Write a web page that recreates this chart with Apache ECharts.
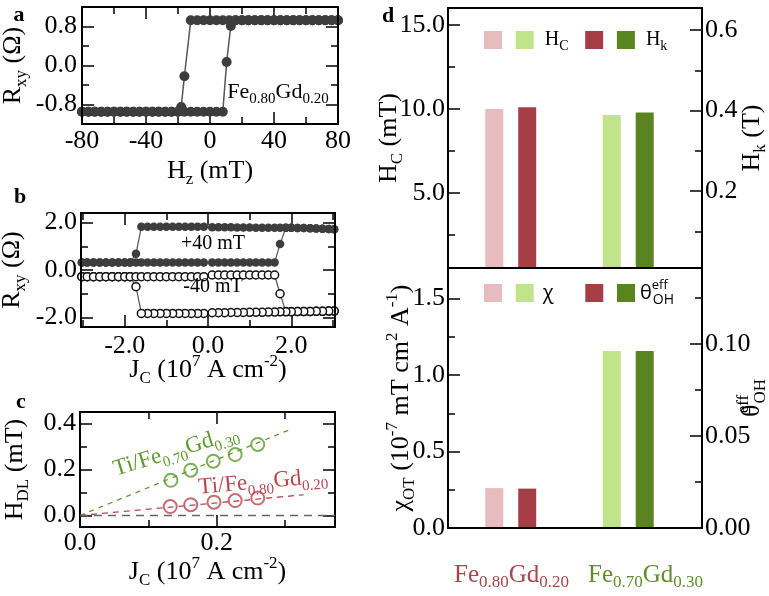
<!DOCTYPE html>
<html>
<head>
<meta charset="utf-8">
<script src="https://cdn.jsdelivr.net/npm/echarts@6/dist/echarts.min.js"></script>
<style>
html,body{margin:0;padding:0;background:#fff;}
#chart{width:769px;height:596px;}
</style>
</head>
<body>
<div id="chart"></div>
<script>
// ================= DATA =================
// (a) R_xy vs H_z loop, Fe0.80Gd0.20
const hzDown = [80,76,72,68,64,60,56,52,48,44,40,36,32,28,24,20,16,12,8,4,0,-4,-8,-12,-16,-18,-20,-24,-28,-32,-36,-40,-44,-48,-52,-56,-60,-64,-68,-72,-76,-80];
const rxyDown = [0.93,0.93,0.93,0.93,0.93,0.93,0.93,0.93,0.93,0.93,0.93,0.93,0.93,0.93,0.93,0.93,0.93,0.93,0.93,0.93,0.93,0.93,0.93,0.93,-0.22,-0.85,-0.95,-0.95,-0.95,-0.95,-0.95,-0.95,-0.95,-0.95,-0.95,-0.95,-0.95,-0.95,-0.95,-0.95,-0.95,-0.95];
const hzUp = [-80,-76,-72,-68,-64,-60,-56,-52,-48,-44,-40,-36,-32,-28,-24,-20,-16,-12,-8,-4,0,4,8,10.4,13,16,20,24,28,32,36,40,44,48,52,56,60,64,68,72,76,80];
const rxyUp = [-0.95,-0.95,-0.95,-0.95,-0.95,-0.95,-0.95,-0.95,-0.95,-0.95,-0.95,-0.95,-0.95,-0.95,-0.95,-0.95,-0.95,-0.95,-0.95,-0.95,-0.95,-0.95,-0.95,0.07,0.81,0.93,0.93,0.93,0.93,0.93,0.93,0.93,0.93,0.93,0.93,0.93,0.93,0.93,0.93,0.93,0.93,0.93];
const aXMajor = [-80,-40,0,40,80], aXMinor = [-60,-20,20,60];
const aYMajor = [-0.8,0,0.8], aYMinor = [-0.4,0.4];

// (b) current-induced switching, +40 mT (filled) and -40 mT (open)
const jSweep = [0.10,0.25,0.40,0.55,0.70,0.85,1.00,1.15,1.30,1.45,1.60,1.73,1.87,2.00,2.15,2.30,2.45,2.60,2.75,2.90,3.03];
const pPosFwd = [0.32,0.32,0.32,0.32,0.32,0.32,0.32,0.32,0.32,0.32,0.32,1.09,1.78,1.78,1.77,1.77,1.76,1.75,1.74,1.73,1.72];
const pPosRet = [1.80,1.80,1.80,1.80,1.79,1.79,1.79,1.78,1.78,1.78,1.78,1.78,1.78,1.78,1.77,1.77,1.76,1.75,1.74,1.73,1.72];
const pNegFwd = [1.82,1.82,1.82,1.82,1.82,1.82,1.82,1.82,1.82,1.82,1.82,0.68,0.32,0.32,0.32,0.32,0.32,0.32,0.32,0.32,0.32];
const pNegRet = [0.32,0.32,0.32,0.32,0.32,0.32,0.32,0.32,0.32,0.32,0.32,0.32,0.32,0.32,0.32,0.32,0.32,0.32,0.32,0.32,0.32];
const nPosFwd = [-0.21,-0.21,-0.21,-0.21,-0.21,-0.21,-0.21,-0.21,-0.21,-0.21,-0.21,-1.00,-1.75,-1.75,-1.75,-1.75,-1.75,-1.74,-1.74,-1.73,-1.73];
const nPosRet = [-1.80,-1.80,-1.80,-1.79,-1.79,-1.79,-1.78,-1.78,-1.78,-1.77,-1.77,-1.76,-1.76,-1.76,-1.75,-1.75,-1.75,-1.74,-1.74,-1.73,-1.73];
const nNegFwd = [-1.83,-1.83,-1.83,-1.83,-1.83,-1.83,-1.83,-1.83,-1.83,-1.83,-1.83,-0.70,-0.28,-0.28,-0.28,-0.28,-0.28,-0.28,-0.28,-0.28,-0.28];
const nNegRet = [-0.28,-0.28,-0.28,-0.28,-0.28,-0.28,-0.28,-0.28,-0.28,-0.28,-0.28,-0.28,-0.28,-0.28,-0.28,-0.28,-0.28,-0.28,-0.28,-0.28,-0.28];
const bXMajor = [-2,0,2], bXMinor = [-3,-1,1,3];
const bYMajor = [-2,0,2], bYMinor = [-1,1];

// (c) H_DL vs J_C
const jcG = [0.133,0.162,0.195,0.227,0.260], hdlG = [0.153,0.197,0.236,0.265,0.309];
const jcR = [0.132,0.162,0.196,0.227,0.260], hdlR = [0.039,0.047,0.058,0.065,0.076];
const fitGx = [0,0.305], fitGy = [0,0.371];
const fitRx = [0,0.327], fitRy = [0,0.090];
const cXMajor = [0,0.2], cXMinor = [0.1,0.3];
const cYMajor = [0,0.2,0.4], cYMinor = [0.1,0.3];

// (d) bars
const materials = ['Fe0.80Gd0.20','Fe0.70Gd0.30'];
const matParts = [['Fe','0.80','Gd','0.20'],['Fe','0.70','Gd','0.30']];
const hc = [10.0, 9.64];      // mT (left)
const hk = [0.408, 0.395];    // T (right)
const chi = [0.261, 1.157];   // 1e-7 mT cm2/A (left)
const theta = [0.0214, 0.0962]; // (right)
const dTLMajor = [5,10,15], dTLMinor = [2.5,7.5,12.5];
const dTRMajor = [0.2,0.4,0.6], dTRMinor = [0.1,0.3,0.5];
const dBLMajor = [0,0.5,1.0,1.5], dBLMinor = [0.25,0.75,1.25];
const dBRMajor = [0,0.05,0.10], dBRMinor = [0.025,0.075,0.125];

// ================= STYLE =================
const FONT = 'Liberation Serif';
const SANS = 'Open Sans';
const C_PINK = '#e8bcbe', C_LGREEN = '#c1e38b', C_DRED = '#a63f45', C_DGREEN = '#5a8420';
const C_TRED = '#a6474b', C_TGREEN = '#5f8e2a';
const C_CGREEN = '#5e9a2c', C_CRED = '#b8484d';
const MAJ = 12, MIN = 7;

function rich(size, color, subSize) {
  color = color || '#000';
  const sub = subSize || Math.round(size * 0.66);
  return {
    m: {fontFamily: FONT, fontSize: size, color: color, fill: color, lineHeight: size + 8},
    s: {fontFamily: FONT, fontSize: sub, color: color, fill: color, lineHeight: sub, verticalAlign: 'bottom'},
    p: {fontFamily: FONT, fontSize: sub, color: color, fill: color, lineHeight: sub, verticalAlign: 'top'},
    e: {fontFamily: FONT, fontSize: sub, color: color, fill: color, lineHeight: sub, verticalAlign: 'top', width: 1},
    o: {fontFamily: FONT, fontSize: sub, color: color, fill: color, lineHeight: sub, verticalAlign: 'bottom'}
  };
}
const numRich = {n: {fontFamily: FONT, fontSize: 26, color: '#000', lineHeight: 30}};

const grids = [], xAxes = [], yAxes = [];
function addGrid(box, show) {
  grids.push({left: box[0], top: box[1], width: box[2] - box[0], height: box[3] - box[1],
    show: !!show, borderColor: '#000', borderWidth: 2, backgroundColor: 'rgba(0,0,0,0)', z: 5,
    containLabel: false, outerBoundsMode: 'none'});
  return grids.length - 1;
}
function addAxis(dim, gi, pos, range, vals, len, lab, extra) {
  const a = Object.assign({
    type: 'value', gridIndex: gi, position: pos, min: range[0], max: range[1],
    axisLine: {show: false, onZero: false},
    splitLine: {show: false},
    axisTick: {show: true, inside: true, length: len, customValues: vals, lineStyle: {color: '#000', width: 1.5}},
    axisLabel: lab ? Object.assign({show: true, customValues: vals, fontFamily: FONT, fontSize: 26, color: '#000', rich: numRich}, lab) : {show: false},
    nameMoveOverlap: false
  }, extra || {});
  const arr = dim === 'x' ? xAxes : yAxes;
  arr.push(a);
  return arr.length - 1;
}
function nameOpt(name, gap, rot) {
  const o = {name: name, nameLocation: 'middle', nameGap: gap, nameTextStyle: {rich: rich(26)}};
  if (rot != null) o.nameRotate = rot;
  return o;
}
const fx = d => v => '{n|' + v.toFixed(d) + '}';

function panel(box, xr, yr, xMaj, xMin, yMaj, yMin, xd, yd, xName, xGap, yName, yGap, xMargin, yMargin) {
  const gi = addGrid(box, true);
  const xi = addAxis('x', gi, 'bottom', xr, xMaj, MAJ, {formatter: fx(xd), margin: xMargin}, nameOpt(xName, xGap));
  addAxis('x', gi, 'bottom', xr, xMin, MIN);
  addAxis('x', gi, 'top', xr, xMaj, MAJ);
  addAxis('x', gi, 'top', xr, xMin, MIN);
  const yi = addAxis('y', gi, 'left', yr, yMaj, MAJ, {formatter: fx(yd), margin: yMargin}, nameOpt(yName, yGap, 90));
  addAxis('y', gi, 'left', yr, yMin, MIN);
  addAxis('y', gi, 'right', yr, yMaj, MAJ);
  addAxis('y', gi, 'right', yr, yMin, MIN);
  return [xi, yi];
}

const series = [];

// ---- panel a ----
const [axA, ayA] = panel([82, 7, 338, 124], [-80, 80], [-1.2, 1.2], aXMajor, aXMinor, aYMajor, aYMinor, 0, 1,
  '{m|H}{s|z}{m| (mT)}', 30, '{m|R}{s|xy}{m| (Ω)}', 52, 2, 5);
const aStyle = (name, xs, ys) => ({
  type: 'line', name: name, xAxisIndex: axA, yAxisIndex: ayA, data: xs.map((x, i) => [x, ys[i]]),
  symbol: 'circle', symbolSize: 10, itemStyle: {color: '#3d3d3d'}, lineStyle: {color: '#555', width: 1.5}, z: 3
});
series.push(aStyle('down', hzDown, rxyDown), aStyle('up', hzUp, rxyUp));

// ---- panel b ----
const [axB, ayB] = panel([81, 213, 335, 327], [-3.05, 3.05], [-2.4, 2.4], bXMajor, bXMinor, bYMajor, bYMinor, 1, 1,
  '{m|J}{s|C}{m| (10}{p|7}{m| A cm}{p|-2}{m|)}', 26, '{m|R}{s|xy}{m| (Ω)}', 52, 4, 4);
function loop(pf, pr, nf, nr) {
  return [].concat(
    jSweep.map((j, i) => [j, pf[i]]),
    jSweep.map((j, i) => [j, pr[i]]).reverse(),
    jSweep.map((j, i) => [-j, nf[i]]),
    jSweep.map((j, i) => [-j, nr[i]]).reverse());
}
series.push({type: 'line', name: 'p40', xAxisIndex: axB, yAxisIndex: ayB, data: loop(pPosFwd, pPosRet, pNegFwd, pNegRet),
  symbol: 'circle', symbolSize: 8.5, itemStyle: {color: '#3d3d3d'}, lineStyle: {color: '#555', width: 1.2}, z: 3});
series.push({type: 'line', name: 'n40', xAxisIndex: axB, yAxisIndex: ayB, data: loop(nPosFwd, nPosRet, nNegFwd, nNegRet),
  symbol: 'circle', symbolSize: 8, itemStyle: {color: '#fff', borderColor: '#111', borderWidth: 1.5}, lineStyle: {color: '#555', width: 1.2}, z: 3});

// ---- panel c ----
const [axC, ayC] = panel([80, 412, 335, 527], [0, 0.373], [-0.05, 0.45], cXMajor, cXMinor, cYMajor, cYMinor, 1, 1,
  '{m|J}{s|C}{m| (10}{p|7}{m| A cm}{p|-2}{m|)}', 28, '{m|H}{s|DL}{m| (mT)}', 48, 1, 4);
series.push({type: 'line', name: 'fitG', xAxisIndex: axC, yAxisIndex: ayC, data: fitGx.map((x, i) => [x, fitGy[i]]),
  symbol: 'none', lineStyle: {color: C_CGREEN, width: 1.3, type: [5, 5]}, z: 2,
  markLine: {silent: true, symbol: 'none', label: {show: false}, data: [{yAxis: 0}], lineStyle: {color: '#666', width: 1.3, type: [8, 6]}}});
series.push({type: 'line', name: 'fitR', xAxisIndex: axC, yAxisIndex: ayC, data: fitRx.map((x, i) => [x, fitRy[i]]),
  symbol: 'none', lineStyle: {color: C_CRED, width: 1.3, type: [6, 5]}, z: 2});
series.push({type: 'scatter', name: 'ptsG', xAxisIndex: axC, yAxisIndex: ayC, data: jcG.map((x, i) => [x, hdlG[i]]),
  symbol: 'circle', symbolSize: 13, itemStyle: {color: 'rgba(0,0,0,0)', borderColor: C_CGREEN, borderWidth: 2}, z: 3});
series.push({type: 'scatter', name: 'ptsR', xAxisIndex: axC, yAxisIndex: ayC, data: jcR.map((x, i) => [x, hdlR[i]]),
  symbol: 'circle', symbolSize: 13, itemStyle: {color: 'rgba(0,0,0,0)', borderColor: C_CRED, borderWidth: 2}, z: 3});

// ---- panel d ----
const FRAME_L = 448, FRAME_R = 702, DATA_L = 452, DATA_R = 687;
const D_TOP = 8, D_MID = 268, D_BOT = 528;
const gFT = addGrid([FRAME_L, D_TOP, FRAME_R, D_MID], true);
xAxes.push({type: 'value', gridIndex: gFT, show: false});
yAxes.push({type: 'value', gridIndex: gFT, show: false});
const gFB = addGrid([FRAME_L, D_MID, FRAME_R, D_BOT], true);
const matRich = {};
['r', 'g'].forEach((k, i) => {
  const col = i === 0 ? C_TRED : C_TGREEN;
  matRich[k + 'f'] = {fontFamily: FONT, fontSize: 25, color: col, lineHeight: 32, padding: [0, 0, 0, i === 0 ? 0 : 14]};
  matRich[k + 'm'] = {fontFamily: FONT, fontSize: 25, color: col, lineHeight: 32};
  matRich[k + 's'] = {fontFamily: FONT, fontSize: 17, color: col, lineHeight: 17, verticalAlign: 'bottom'};
});
xAxes.push({type: 'category', gridIndex: gFB, data: materials, position: 'bottom',
  axisLine: {show: false}, axisTick: {show: false}, splitLine: {show: false},
  axisLabel: {interval: 0, margin: 31, rich: matRich, formatter: (v, i) => {
    const k = i === 0 ? 'r' : 'g'; const p = matParts[i];
    return '{' + k + 'f|' + p[0] + '}{' + k + 's|' + p[1] + '}{' + k + 'm|' + p[2] + '}{' + k + 's|' + p[3] + '}';
  }}});
yAxes.push({type: 'value', gridIndex: gFB, show: false});

function dataPanel(top, bot, lr, rr, lMaj, lMin, rMaj, rMin, ld, rd, lName, lGap, rName, rGap) {
  const gi = addGrid([DATA_L, top, DATA_R, bot], false);
  xAxes.push({type: 'category', gridIndex: gi, data: materials, show: false});
  const xi = xAxes.length - 1;
  const offL = DATA_L - FRAME_L, offR = FRAME_R - DATA_R;
  const yl = addAxis('y', gi, 'left', lr, lMaj, MAJ, {formatter: fx(ld), margin: 3}, Object.assign({offset: offL}, nameOpt(lName, lGap, 90)));
  addAxis('y', gi, 'left', lr, lMin, MIN, null, {offset: offL});
  const yr = addAxis('y', gi, 'right', rr, rMaj, MAJ, {formatter: fx(rd), margin: 3}, Object.assign({offset: offR}, nameOpt(rName, rGap, 90)));
  addAxis('y', gi, 'right', rr, rMin, MIN, null, {offset: offR});
  return [xi, yl, yr];
}
const [dxT, dyTL, dyTR] = dataPanel(D_TOP, D_MID, [0.54, 16.0], [0.0087, 0.655], dTLMajor, dTLMinor, dTRMajor, dTRMinor, 1, 1,
  '{m|H}{s|C}{m| (mT)}', 42, '{m|H}{s|k}{m| (T)}', 33);
const [dxB, dyBL, dyBR] = dataPanel(D_MID, D_BOT, [0, 1.70], [0, 0.1413], dBLMajor, dBLMinor, dBRMajor, dBRMinor, 1, 2,
  '{m|χ}{s|OT}{m| (10}{p|-7}{m| mT cm}{p|2}{m| A}{p|-1}{m|)}', 30, '{m|θ}{e|eff}{o|OH}', 33);

function oneBar(name, vals, idx, xi, yi, stack, color) {
  return {type: 'bar', name: name, xAxisIndex: xi, yAxisIndex: yi, stack: stack,
    data: vals.map((v, i) => i === idx ? v : '-'), barWidth: 18, barGap: '83%',
    itemStyle: {color: color}, z: 2};
}
series.push(
  oneBar('hcA', hc, 0, dxT, dyTL, 'hc', C_PINK), oneBar('hcB', hc, 1, dxT, dyTL, 'hc', C_LGREEN),
  oneBar('hkA', hk, 0, dxT, dyTR, 'hk', C_DRED), oneBar('hkB', hk, 1, dxT, dyTR, 'hk', C_DGREEN),
  oneBar('chiA', chi, 0, dxB, dyBL, 'chi', C_PINK), oneBar('chiB', chi, 1, dxB, dyBL, 'chi', C_LGREEN),
  oneBar('thA', theta, 0, dxB, dyBR, 'th', C_DRED), oneBar('thB', theta, 1, dxB, dyBR, 'th', C_DGREEN));

// legends
const legRich = {
  ml: {fontFamily: FONT, fontSize: 20, color: '#000', lineHeight: 26, padding: [0, 0, 0, 6]},
  ls: {fontFamily: FONT, fontSize: 14, color: '#000', lineHeight: 14, verticalAlign: 'bottom', padding: [0, 3, 0, 0]},
  chi: {fontFamily: SANS, fontSize: 20, color: '#000', lineHeight: 26, padding: [0, 18, 0, 4]},
  th: {fontFamily: SANS, fontSize: 20, color: '#000', lineHeight: 28},
  te: {fontFamily: SANS, fontSize: 13, color: '#000', lineHeight: 13, verticalAlign: 'top', width: 1},
  to: {fontFamily: SANS, fontSize: 14, color: '#000', lineHeight: 14, verticalAlign: 'bottom'}
};
const legendText = {
  hcA: '', hcB: '{ml|H}{ls|C}', hkA: '', hkB: '{ml|H}{ls|k}',
  chiA: '', chiB: '{chi|χ}', thA: '', thB: '{th|θ}{te|eff}{to|OH}'
};
const legBase = {orient: 'horizontal', padding: 0, itemWidth: 18, itemHeight: 18, itemGap: 13.7, icon: 'rect',
  selectedMode: false, formatter: n => legendText[n], textStyle: {rich: legRich, fontFamily: FONT, fontSize: 20, color: '#000'}};

// annotations
const graphics = [
  {type: 'text', x: 19, y: 15, z: 100, style: {text: 'a', fontFamily: FONT, fontSize: 22, fontWeight: 'bold', fill: '#000', align: 'center', verticalAlign: 'middle'}},
  {type: 'text', x: 20, y: 197, z: 100, style: {text: 'b', fontFamily: FONT, fontSize: 22, fontWeight: 'bold', fill: '#000', align: 'center', verticalAlign: 'middle'}},
  {type: 'text', x: 21, y: 402, z: 100, style: {text: 'c', fontFamily: FONT, fontSize: 22, fontWeight: 'bold', fill: '#000', align: 'center', verticalAlign: 'middle'}},
  {type: 'text', x: 388, y: 16, z: 100, style: {text: 'd', fontFamily: FONT, fontSize: 22, fontWeight: 'bold', fill: '#000', align: 'center', verticalAlign: 'middle'}},
  {type: 'text', x: 278, y: 92, z: 100, style: {text: '{m|Fe}{s|0.80}{m|Gd}{s|0.20}', rich: rich(22, '#000', 15), align: 'center', verticalAlign: 'middle'}},
  {type: 'text', x: 213, y: 244, z: 100, style: {text: '+40 mT', fontFamily: FONT, fontSize: 20, fill: '#000', align: 'center', verticalAlign: 'middle'}},
  {type: 'text', x: 213, y: 287, z: 100, style: {text: '-40 mT', fontFamily: FONT, fontSize: 20, fill: '#000', align: 'center', verticalAlign: 'middle'}},
  {type: 'text', x: 176, y: 451, rotation: 17 * Math.PI / 180, z: 100, style: {text: '{m|Ti/Fe}{s|0.70}{m|Gd}{s|0.30}', rich: rich(23, C_CGREEN, 15), align: 'center', verticalAlign: 'middle'}},
  {type: 'text', x: 263, y: 482, rotation: 5 * Math.PI / 180, z: 100, style: {text: '{m|Ti/Fe}{s|0.80}{m|Gd}{s|0.20}', rich: rich(23, C_CRED, 15), align: 'center', verticalAlign: 'middle'}}
];

const chart = echarts.init(document.getElementById('chart'), null, {renderer: 'canvas'});
chart.setOption({
  animation: false,
  backgroundColor: '#fff',
  textStyle: {fontFamily: FONT},
  grid: grids,
  xAxis: xAxes,
  yAxis: yAxes,
  legend: [
    Object.assign({}, legBase, {data: ['hcA', 'hcB', 'hkA', 'hkB'], left: 484, top: 30}),
    Object.assign({}, legBase, {data: ['chiA', 'chiB', 'thA', 'thB'], left: 484, top: 279})
  ],
  series: series,
  graphic: graphics
});
</script>
</body>
</html>
